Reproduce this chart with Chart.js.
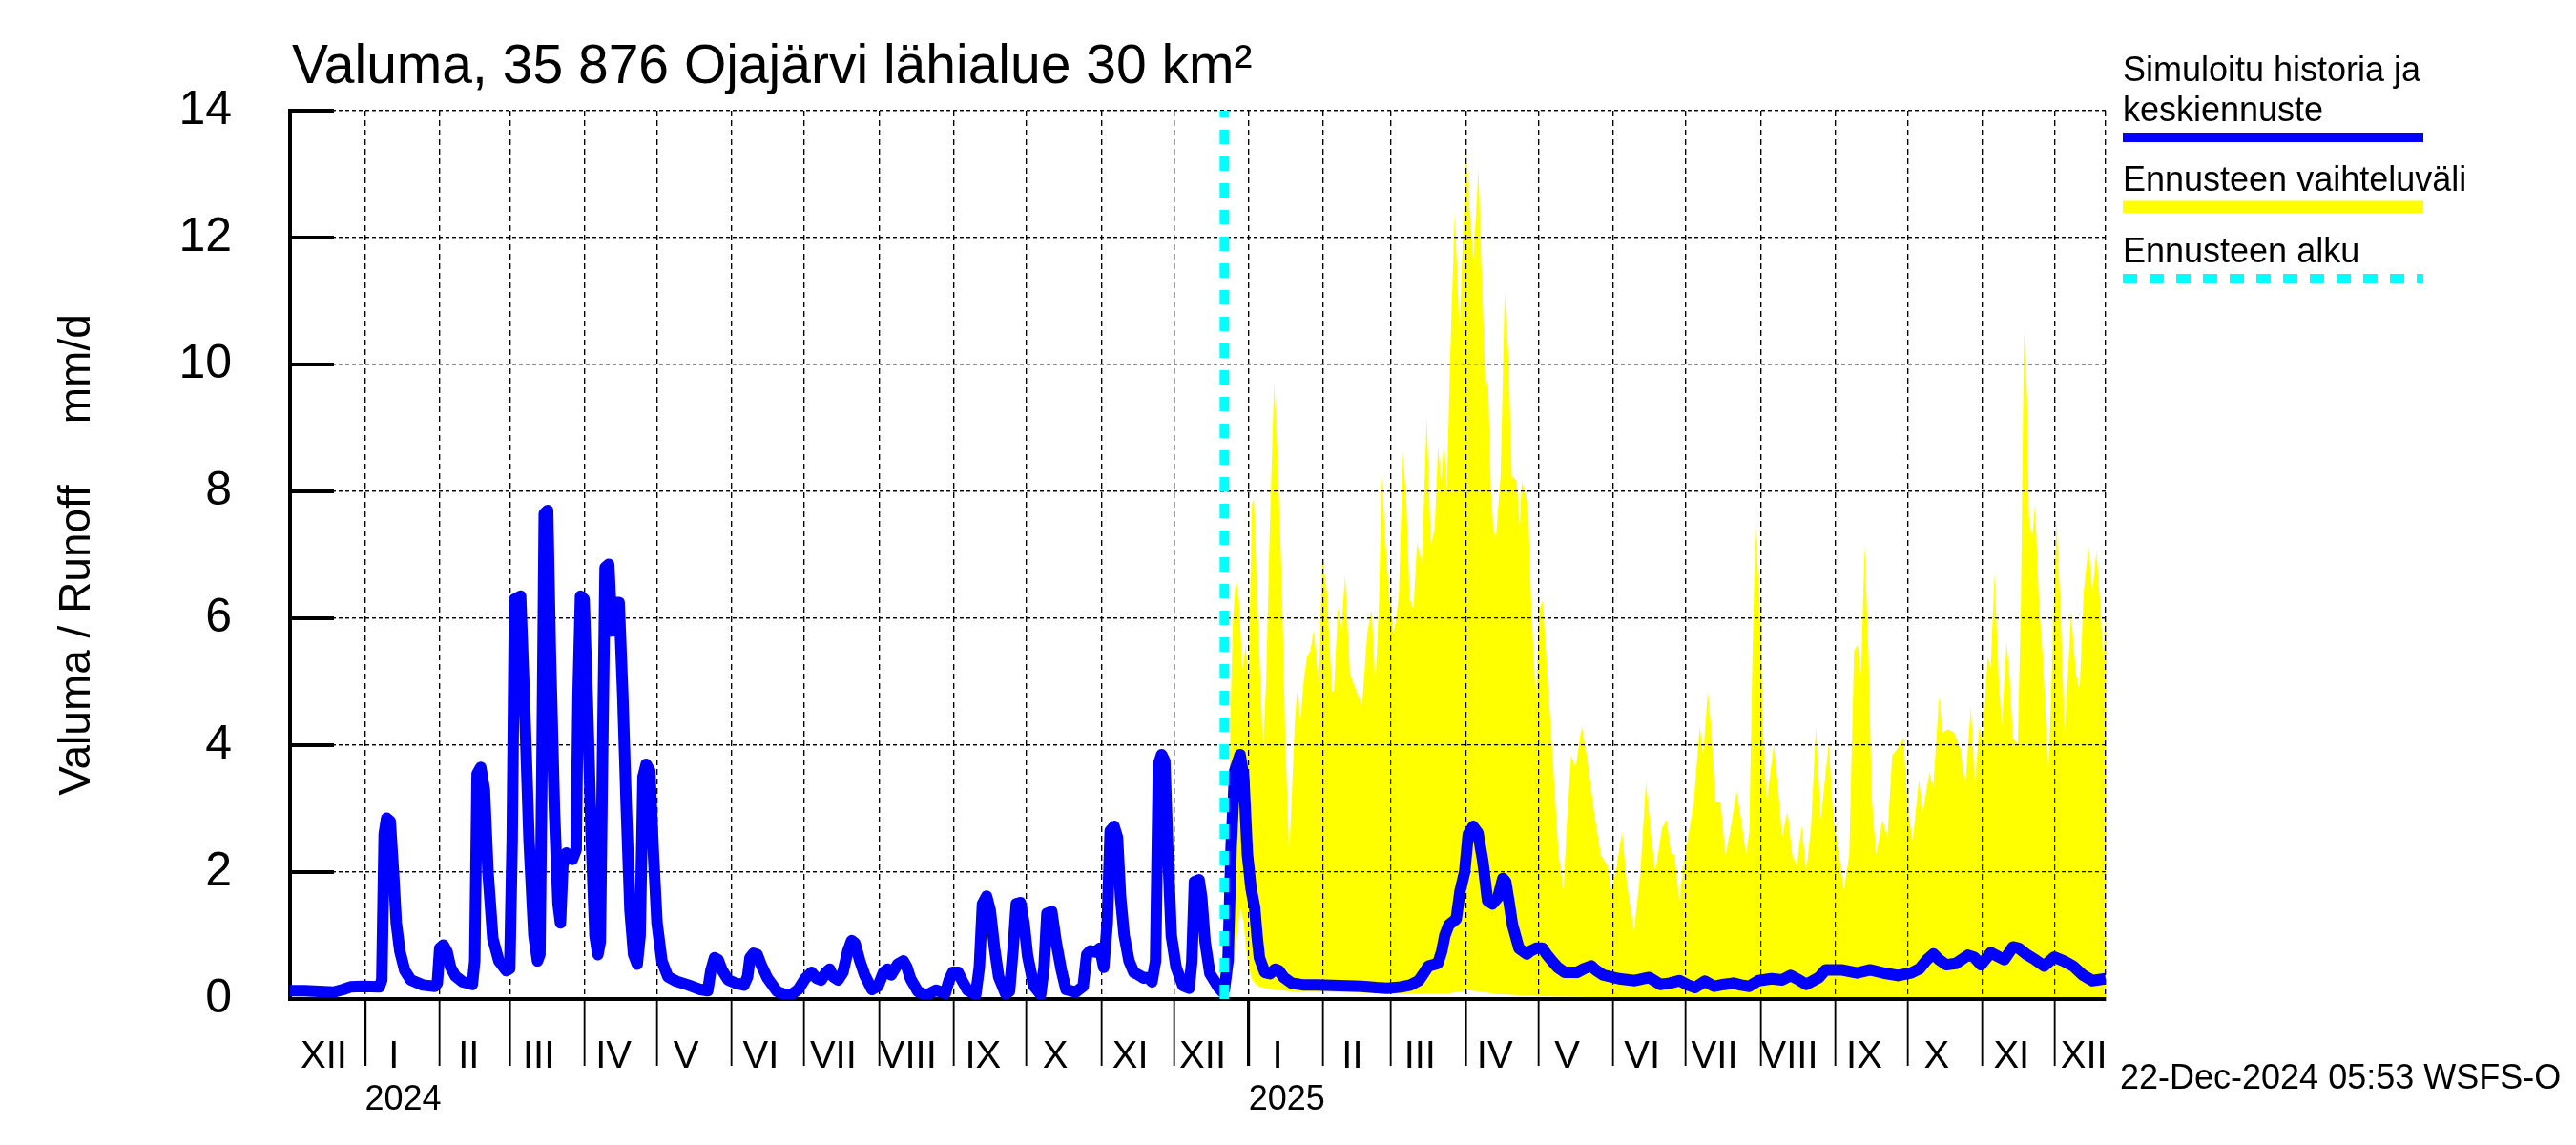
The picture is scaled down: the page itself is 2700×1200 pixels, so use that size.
<!DOCTYPE html>
<html>
<head>
<meta charset="utf-8">
<title>Valuma, 35 876 Ojajärvi lähialue</title>
<script src="https://cdn.jsdelivr.net/npm/chart.js@4.4.1/dist/chart.umd.min.js"></script>
<style>
    html, body { margin: 0; padding: 0; background: #ffffff; }
    #wrap { width: 2700px; height: 1200px; }
</style>
</head>
<body>
<div id="wrap"><canvas id="runoff-chart" width="2700" height="1200"></canvas></div>
<script>
// x values are days counted from 1 Dec 2023
const DAY_MS = 86400000;
const START = Date.UTC(2023, 11, 1);
const END_DAY = 752;        // 22 Dec 2025
const FORECAST_DAY = 387;   // 22 Dec 2024

const monthLabels = ['XII', 'I', 'II', 'III', 'IV', 'V', 'VI', 'VII', 'VIII', 'IX', 'X', 'XI', 'XII',
    'I', 'II', 'III', 'IV', 'V', 'VI', 'VII', 'VIII', 'IX', 'X', 'XI', 'XII'];
const yearLabels = ['2024', '2025'];
const yTicks = [0, 2, 4, 6, 8, 10, 12, 14];

// simulated history
const histDays = [0, 6, 12, 18, 22, 25, 30, 37, 38, 39, 40, 41.5, 43, 44, 45.5, 47.5, 50, 55, 60,
    61, 62, 63.5, 65, 66.5, 68.5, 71.5, 75.5, 76.5, 77.5, 79, 80.5, 82, 84, 86.5, 89.5, 91,
    92, 93, 95.5, 97, 99, 101, 102.5, 103.5, 104.3, 105.3, 106.7, 107.8, 109.5, 111, 112, 113,
    114.5, 117, 118.5, 119.3, 120.3, 121.8, 123.3, 124.8, 126.3, 127.5, 128.5, 129.5, 130.5, 132,
    133.3, 135, 136.3, 137.8, 139.3, 140.8, 142.3, 143.8, 145, 146.2, 147.5, 149, 150.5, 152, 154,
    156.5, 160, 165, 170, 173, 174.3, 175.8, 177.3, 179, 181.5, 184.5, 188, 189.5, 190.5, 192,
    193.5, 195, 197.7, 201.7, 205, 208, 210.5, 213.5, 216, 218, 220, 222, 223.5, 225, 227, 229,
    231, 232.6, 234, 236, 238, 241, 243.5, 245.8, 247.5, 249, 251.7, 254, 255.5, 257, 260, 263.5,
    267.5, 271.4, 273, 274.5, 276.7, 278.5, 280.6, 284, 285.5, 286.8, 288.5, 290, 291.8, 293.5,
    296.4, 298, 299.5, 300.8, 302.5, 304, 305.5, 308, 310.9, 312.3, 313.5, 315.5, 317.3, 319.5,
    321.4, 325.4, 328.5, 330, 331.5, 333.5, 335.5, 337, 338.5, 339.7, 341.3, 342.7, 344, 345.5,
    347.5, 349.5, 351.5, 353.5, 355.5, 357, 358.5, 359.7, 361, 362.3, 363.5, 365, 367, 369.8,
    372.4, 373.5, 374.6, 376.5, 377.6, 379, 381, 384.6, 386, 387];
const histValues = [0.13, 0.13, 0.12, 0.11, 0.15, 0.19, 0.2, 0.19, 0.3, 2.6, 2.85, 2.8, 1.9, 1.2, 0.75, 0.45, 0.3, 0.22, 0.2,
    0.25, 0.8, 0.85, 0.75, 0.5, 0.36, 0.27, 0.23, 0.6, 3.55, 3.65, 3.3, 2.0, 0.95, 0.6, 0.45, 0.48,
    2.5, 6.3, 6.35, 4.8, 2.5, 1.0, 0.6, 0.7, 3.5, 7.65, 7.7, 5.5, 3.0, 1.5, 1.2, 2.1,
    2.3, 2.2, 2.35, 4.8, 6.35, 6.3, 4.5, 2.5, 1.0, 0.7, 0.9, 4.0, 6.8, 6.85,
    5.8, 6.25, 6.25, 4.8, 3.0, 1.4, 0.7, 0.55, 1.0, 3.5, 3.7, 3.6, 2.3, 1.2, 0.6,
    0.35, 0.28, 0.22, 0.15, 0.13, 0.45, 0.65, 0.62, 0.45, 0.3, 0.25, 0.22, 0.35, 0.65, 0.72,
    0.7, 0.55, 0.33, 0.12, 0.07, 0.08, 0.15, 0.33, 0.42, 0.33, 0.3, 0.42, 0.47, 0.35, 0.3, 0.42,
    0.75, 0.92, 0.88, 0.6, 0.38, 0.15, 0.2, 0.42, 0.47, 0.38, 0.55, 0.6, 0.5, 0.32, 0.12, 0.06,
    0.14, 0.09, 0.3, 0.42, 0.42, 0.28, 0.14, 0.07, 0.5, 1.5, 1.62, 1.4, 0.8, 0.35,
    0.08, 0.12, 0.8, 1.5, 1.52, 1.2, 0.68, 0.21, 0.07, 0.5, 1.35, 1.38, 0.9, 0.45,
    0.15, 0.11, 0.2, 0.7, 0.76, 0.74, 0.8, 0.5, 1.2, 2.65, 2.72, 2.55, 1.6, 1.0,
    0.6, 0.42, 0.38, 0.33, 0.34, 0.27, 0.6, 3.7, 3.85, 3.75, 2.4, 1.0, 0.5, 0.21,
    0.17, 0.6, 1.85, 1.88, 1.6, 0.9, 0.4, 0.18, 0.12, 0.15];

// mean forecast
const meanDays = [388.5, 389.8, 391.3, 393.5, 395, 396.5, 398, 399.5, 400.5, 401.5, 403.7, 406, 408,
    409.5, 411.6, 414.9, 420, 425.4, 435, 443.8, 450, 454.4, 460, 464, 467.5, 469.5, 471.5, 475.4,
    477, 478.3, 480, 483, 484.6, 486.5, 488, 490, 492, 494, 496, 498, 500.3, 502.3, 503.5, 505,
    506.3, 509, 512.2, 514, 516.1, 518.8, 520.5, 522.7, 525, 528, 533, 536, 539, 541, 543.8,
    550.4, 557, 562.9, 567.5, 571.5, 575.4, 579, 582, 586, 589.9, 594, 597.8, 601, 604.4, 608.3,
    613.6, 618, 621.5, 625, 628, 633.3, 636, 642.5, 649, 654.4, 660, 666, 671.4, 675, 678, 680.7,
    683, 686, 690, 695, 697.5, 700.4, 704.4, 707, 710, 713.6, 716, 719, 722.8, 726.5, 730.7,
    734.6, 738.5, 742.5, 746.5, 752];
const meanValues = [0.6, 2.4, 3.6, 3.85, 3.5, 2.3, 1.75, 1.45, 1.0, 0.65, 0.42, 0.4, 0.47,
    0.45, 0.34, 0.25, 0.22, 0.22, 0.21, 0.2, 0.18, 0.17, 0.19, 0.22, 0.29, 0.4, 0.52, 0.56,
    0.75, 1.0, 1.17, 1.26, 1.7, 2.0, 2.6, 2.72, 2.62, 2.18, 1.55, 1.5, 1.6, 1.9, 1.85, 1.5,
    1.17, 0.8, 0.71, 0.76, 0.8, 0.8, 0.7, 0.6, 0.5, 0.42, 0.42, 0.48, 0.52, 0.45, 0.38,
    0.32, 0.29, 0.34, 0.23, 0.25, 0.29, 0.22, 0.18, 0.28, 0.2, 0.23, 0.25, 0.22, 0.2, 0.29,
    0.32, 0.3, 0.37, 0.3, 0.23, 0.34, 0.46, 0.46, 0.41, 0.46, 0.41, 0.37, 0.41, 0.48, 0.62, 0.71,
    0.62, 0.54, 0.56, 0.69, 0.66, 0.54, 0.73, 0.68, 0.62, 0.82, 0.8, 0.71, 0.62, 0.52, 0.66,
    0.6, 0.52, 0.38, 0.29, 0.32];

// forecast range, upper edge
const maxDays = [387, 388.5, 389.5, 390.5, 391.8, 393, 394.5, 395.8, 397, 398.4, 399.2, 401, 403,
    404.3, 405.6, 407.6, 408.9, 410.9, 412.2, 413.8, 414.9, 416.2, 417.1, 418.5, 419.9, 421.2,
    422.6, 424, 425, 426.2, 427.5, 429.5, 431.5, 432.4, 434, 435.4, 437, 439, 441.7, 444, 446.2,
    448, 449.5, 451, 452.2, 453.5, 455.5, 456.9, 458, 459.3, 461, 462.4, 463.7, 465.3, 466.8,
    468.8, 470.8, 472.5, 474.1, 475.5, 476.8, 478, 479.1, 480.5, 482.4, 484.4, 485.7, 487.3,
    488.4, 490.2, 491.5, 492.2, 493.5, 495.3, 496.2, 497.4, 498.4, 499.4, 501.4, 503.1, 504.7,
    506, 508, 509.3, 510.2, 511.6, 512.8, 513.9, 516, 517.5, 518.8, 520.8, 523.5, 525.4, 527.4,
    528.8, 530.6, 532.5, 535, 537.5, 540.2, 542.9, 545.8, 547.2, 549.1, 551.7, 553.7, 556.7,
    559.3, 561.6, 563.6, 565.5, 568.2, 570.1, 572, 573.5, 575.4, 577.4, 579.4, 581.3, 583.9,
    585.3, 587.2, 588.5, 590.5, 592.5, 594.5, 596.5, 599.1, 601.1, 603, 604.4, 605.7, 607,
    608.6, 610.3, 611.6, 614.6, 616.2, 618, 620.2, 622.2, 624.1, 626.1, 628, 630, 632, 634,
    637.3, 639.2, 641.2, 643.6, 645.8, 647.8, 649.4, 650.7, 652.2, 653.8, 655.1, 656.9, 659.6,
    661.6, 663.6, 665.5, 668.2, 670.2, 672.1, 674.7, 676.1, 679, 680.6, 683, 684.5, 686.6,
    689.2, 691.9, 693.9, 696.2, 697.8, 699.7, 701.1, 703.1, 704.4, 706, 707.7, 709, 711, 712.3,
    713.6, 715.6, 716.9, 718.2, 719.5, 720.2, 721.5, 722.8, 724.5, 725.8, 728.4, 730.4, 731.7,
    733.3, 735, 736.4, 737.7, 739.7, 741.2, 742.9, 744.9, 746.5, 748.2, 749.9, 750.8, 752];
const maxValues = [0.15, 1.5, 4.5, 5.95, 6.64, 6.3, 5.2, 5.58, 5.0, 7.8, 7.88, 5.95, 3.93,
    5.0, 7.15, 9.72, 8.71, 6.41, 4.1, 2.27, 3.19, 4.39, 4.85, 4.39, 5.03, 5.4,
    5.49, 5.81, 5.4, 4.94, 6.96, 6.41, 4.85, 4.85, 6.18, 5.77, 6.69, 5.12, 4.85, 4.62, 5.77,
    6.14, 4.94, 6.23, 8.25, 7.33, 6.23, 5.77, 5.95, 6.41, 8.62, 7.8, 6.32, 6.14, 7.19,
    6.87, 9.17, 7.15, 7.42, 8.71, 8.16, 8.8, 7.98, 10.1, 12.39, 10.46, 11.93, 13.42,
    12.48, 11.66, 12.58, 13.08, 11.47, 9.63, 9.77, 7.98, 7.42, 7.24, 8.25, 11.15, 10.09,
    8.25, 8.16, 7.47, 8.16, 7.98, 7.8, 6.41, 4.66, 6.14, 6.27, 5.12, 3.47, 2.27, 1.72,
    2.73, 3.84, 3.65, 4.3, 3.74, 2.92, 2.27, 2.09, 1.72, 2.0, 2.64, 1.81, 1.08,
    2.0, 3.42, 2.64, 2.0, 2.69, 2.82, 2.3, 2.27, 1.54, 2.18, 2.64, 3.05, 4.3,
    3.84, 4.85, 4.3, 3.1, 3.1, 2.27, 2.64, 3.28, 2.82, 2.27, 2.64, 5.4, 7.42,
    6.32, 4.02, 3.1, 4.02, 3.38, 2.55, 2.96, 2.27, 2.09, 2.73, 2.0, 2.73, 4.3, 2.82,
    4.02, 2.82, 2.36, 1.72, 2.27, 5.49, 5.58, 5.12, 7.15, 5.4, 3.19, 2.27, 2.82,
    2.55, 3.84, 3.93, 4.11, 2.92, 2.5, 3.47, 2.92, 3.56, 3.33, 4.76, 4.2, 4.25,
    4.2, 3.93, 3.38, 4.62, 3.38, 4.3, 4.02, 5.4, 5.22, 6.69, 5.03, 4.3, 5.63, 5.03,
    4.11, 4.02, 6.23, 10.55, 9.45, 7.61, 7.24, 7.8, 6.14, 5.49, 3.56, 5.95, 7.52,
    6.14, 4.2, 5.12, 6.09, 5.12, 4.85, 6.41, 7.15, 6.41, 7.06, 6.14, 5.4, 6.04];

// forecast range, lower edge
const minDays = [387, 389, 391, 392.5, 393.5, 395, 396.5, 398.5, 401, 405, 415, 440, 465, 480,
    488, 492, 500, 510, 520, 540, 600, 700, 752];
const minValues = [0.15, 0.3, 0.6, 1.1, 1.45, 1.2, 0.6, 0.3, 0.2, 0.16, 0.12, 0.1, 0.08, 0.09,
    0.14, 0.12, 0.08, 0.06, 0.04, 0.03, 0.02, 0.02, 0.02];

const FONT = "'Liberation Sans', Arial, Helvetica, sans-serif";

function toDay(y, m, d) {
    return (Date.UTC(y, m, d) - START) / DAY_MS;
}

function toPoints(days, values) {
    return days.map((d, i) => ({ x: d, y: values[i] }));
}

// month boundaries, label positions (about 12 days into each month) and year starts
const monthStarts = monthLabels.map((_, i) => toDay(2023, 11 + i, 1));
const gridDays = monthStarts.concat([END_DAY]);
const labelDays = monthStarts.map((d, i) => i === 0 ? 14 : d + 12);
const yearDays = [toDay(2024, 0, 1), toDay(2025, 0, 1)];

// grid goes over the yellow range but under the blue line, y ticks point inwards,
// the title, legend and run stamp are drawn as text
const decorPlugin = {
    id: 'decor',
    afterDatasetDraw(chart, args) {
        if (args.index !== 2) return;
        const { x, y } = chart.scales;
        x.drawGrid(chart.chartArea);
        y.drawGrid(chart.chartArea);
        x.drawBorder();
        y.drawBorder();
    },
    afterDraw(chart) {
        const ctx = chart.ctx;
        const area = chart.chartArea;
        const yScale = chart.scales.y;
        ctx.save();

        ctx.strokeStyle = '#000';
        ctx.lineWidth = 4;
        yTicks.forEach(v => {
            const py = yScale.getPixelForValue(v);
            ctx.beginPath();
            ctx.moveTo(area.left, py);
            ctx.lineTo(area.left + 46, py);
            ctx.stroke();
        });

        ctx.fillStyle = '#000';
        ctx.textBaseline = 'alphabetic';
        ctx.textAlign = 'left';
        ctx.font = `57px ${FONT}`;
        ctx.fillText('Valuma, 35 876 Ojajärvi lähialue 30 km²', 306, 87);

        ctx.font = `36px ${FONT}`;
        ctx.fillText('Simuloitu historia ja', 2225, 85);
        ctx.fillText('keskiennuste', 2225, 127);
        ctx.fillText('Ennusteen vaihteluväli', 2225, 200);
        ctx.fillText('Ennusteen alku', 2225, 275);
        ctx.fillText('22-Dec-2024 05:53 WSFS-O', 2222, 1141);

        ctx.lineCap = 'butt';
        ctx.lineWidth = 10;
        ctx.strokeStyle = '#0000ff';
        ctx.beginPath();
        ctx.moveTo(2225, 144);
        ctx.lineTo(2540, 144);
        ctx.stroke();

        ctx.lineWidth = 13;
        ctx.strokeStyle = '#ffff00';
        ctx.beginPath();
        ctx.moveTo(2225, 217);
        ctx.lineTo(2540, 217);
        ctx.stroke();

        ctx.lineWidth = 10;
        ctx.strokeStyle = '#00ffff';
        ctx.setLineDash([15, 13]);
        ctx.beginPath();
        ctx.moveTo(2225, 292);
        ctx.lineTo(2540, 292);
        ctx.stroke();

        ctx.restore();
    }
};

const ctx = document.getElementById('runoff-chart').getContext('2d');
new Chart(ctx, {
    type: 'line',
    data: {
        datasets: [
            {
                label: 'Ennusteen alku',
                data: [{ x: FORECAST_DAY, y: 0 }, { x: FORECAST_DAY, y: 14 }],
                borderColor: '#00ffff',
                borderWidth: 10,
                borderDash: [15, 13],
                pointRadius: 0,
                fill: false
            },
            {
                label: 'Simuloitu historia ja keskiennuste',
                data: toPoints(histDays.concat(meanDays), histValues.concat(meanValues)),
                borderColor: '#0000ff',
                borderWidth: 12,
                borderJoinStyle: 'round',
                pointRadius: 0,
                fill: false
            },
            {
                label: 'Ennusteen vaihteluväli',
                data: toPoints(maxDays, maxValues),
                borderColor: 'rgba(0,0,0,0)',
                borderWidth: 0,
                backgroundColor: '#ffff00',
                pointRadius: 0,
                fill: '+1'
            },
            {
                label: 'min',
                data: toPoints(minDays, minValues),
                borderColor: 'rgba(0,0,0,0)',
                borderWidth: 0,
                pointRadius: 0,
                fill: false
            }
        ]
    },
    options: {
        responsive: false,
        animation: false,
        devicePixelRatio: 1,
        layout: { padding: { left: 0, right: 493, top: 116, bottom: 13 } },
        elements: { line: { tension: 0 } },
        plugins: {
            legend: { display: false },
            tooltip: { enabled: false }
        },
        scales: {
            x: {
                type: 'linear',
                position: 'bottom',
                min: 0,
                max: END_DAY,
                afterBuildTicks: scale => { scale.ticks = gridDays.map(v => ({ value: v })); },
                afterFit: scale => { scale.height = 30; },
                ticks: { display: false },
                grid: {
                    color: '#000',
                    lineWidth: 1.2,
                    tickLength: 70,
                    tickColor: c => (c.tick && (c.tick.value === 0 || c.tick.value === END_DAY)) ? 'rgba(0,0,0,0)' : '#000',
                    tickWidth: c => (c.tick && yearDays.includes(c.tick.value)) ? 3 : 1.5
                },
                border: { display: true, color: '#000', width: 4, dash: [6, 4] }
            },
            xm: {
                type: 'linear',
                position: 'bottom',
                min: 0,
                max: END_DAY,
                afterBuildTicks: scale => { scale.ticks = labelDays.map(v => ({ value: v })); },
                afterFit: scale => { scale.height = 50; },
                ticks: {
                    autoSkip: false,
                    maxRotation: 0,
                    padding: 7,
                    color: '#000',
                    font: { family: FONT, size: 40 },
                    callback: (value, index) => monthLabels[index]
                },
                grid: { display: false, drawTicks: false },
                border: { display: false }
            },
            xy: {
                type: 'linear',
                position: 'bottom',
                min: 0,
                max: END_DAY,
                afterBuildTicks: scale => { scale.ticks = yearDays.map(v => ({ value: v })); },
                afterFit: scale => { scale.height = 60; },
                ticks: {
                    autoSkip: false,
                    maxRotation: 0,
                    align: 'start',
                    padding: 4,
                    color: '#000',
                    font: { family: FONT, size: 36 },
                    callback: (value, index) => yearLabels[index]
                },
                grid: { display: false, drawTicks: false },
                border: { display: false }
            },
            y: {
                type: 'linear',
                position: 'left',
                min: 0,
                max: 14,
                afterBuildTicks: scale => { scale.ticks = yTicks.map(v => ({ value: v })); },
                afterFit: scale => { scale.width = 304; },
                ticks: {
                    padding: 61,
                    color: '#000',
                    font: { family: FONT, size: 50 }
                },
                grid: { color: '#000', lineWidth: 1.2, drawTicks: false },
                border: { display: true, color: '#000', width: 4, dash: [4, 3] },
                title: {
                    display: true,
                    text: 'Valuma / Runoff     mm/d',
                    color: '#000',
                    font: { family: FONT, size: 46 },
                    padding: { top: 54, bottom: 0 }
                }
            }
        }
    },
    plugins: [decorPlugin]
});
</script>
</body>
</html>
